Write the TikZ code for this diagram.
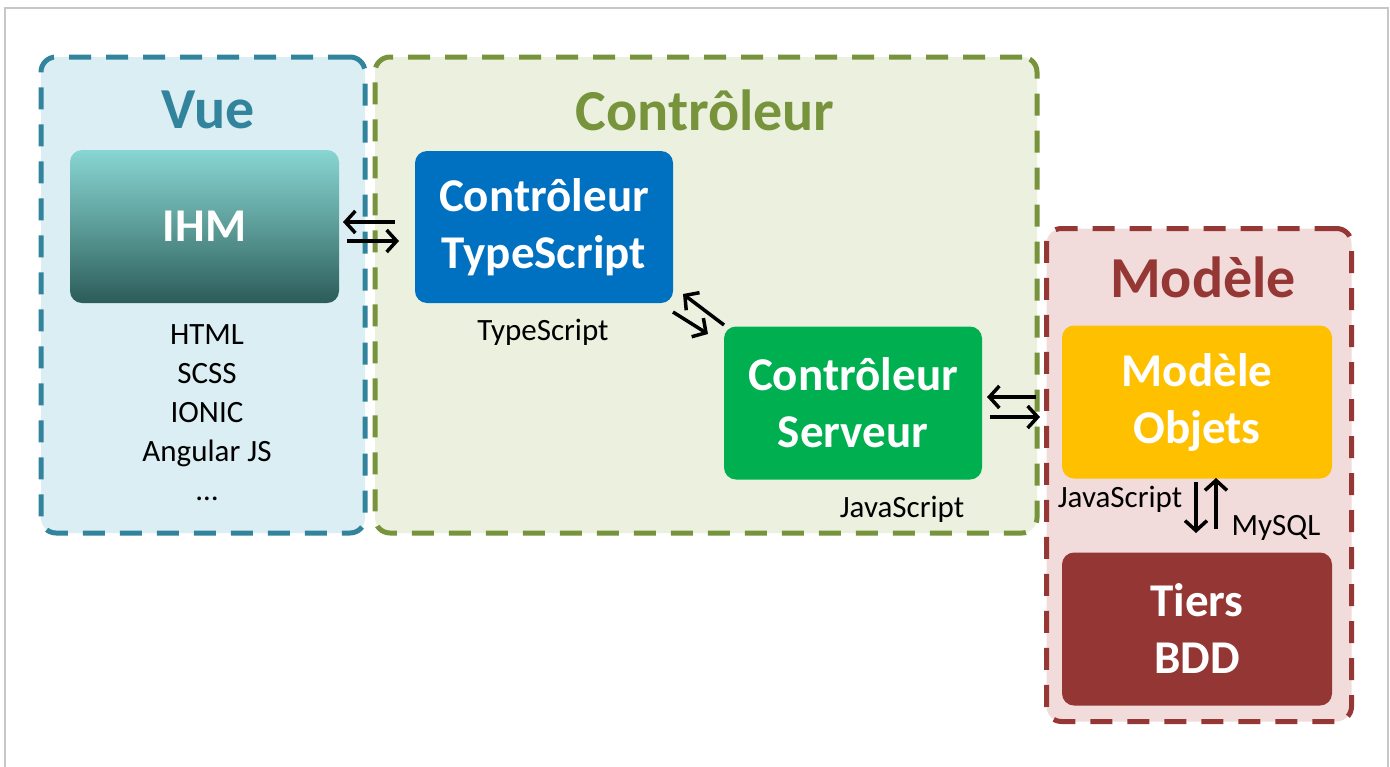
\documentclass[tikz,border=0pt]{standalone}
\usepackage{fontspec}
\setmainfont{Carlito}
\usetikzlibrary{arrows.meta}
\definecolor{vueFill}{HTML}{DBEEF4}
\definecolor{vueLine}{HTML}{31849B}
\definecolor{ctrlFill}{HTML}{EBF1DE}
\definecolor{ctrlLine}{HTML}{77933C}
\definecolor{modFill}{HTML}{F2DCDB}
\definecolor{modLine}{HTML}{953735}
\definecolor{tsBlue}{HTML}{0070C0}
\definecolor{srvGreen}{HTML}{00B050}
\definecolor{objYellow}{HTML}{FFC000}
\definecolor{bddRed}{HTML}{943634}
\definecolor{ihmTop}{HTML}{88D5D3}
\definecolor{ihmMid}{HTML}{5C9C98}
\definecolor{ihmBot}{HTML}{2B5C59}
\tikzset{
  layer/.style={draw, line width=5pt, dash pattern=on 22pt off 15pt, rounded corners=15pt, inner sep=0pt},
  inbox/.style={rounded corners=12pt, inner sep=0pt, text=white, align=center,
    font=\bfseries\fontsize{47}{57}\selectfont},
  title/.style={anchor=base, font=\bfseries\fontsize{58}{60}\selectfont},
  lbl/.style={anchor=base, font=\fontsize{31}{39}\selectfont, align=center, inner sep=0pt},
  arr/.style={line width=3.5pt, -{Straight Barb[length=10pt,width=22pt]}}
}
\begin{document}
\begin{tikzpicture}[x=1pt,y=-1pt]
\useasboundingbox (0,0) rectangle (1390,766);
\draw[black!22, line width=2pt] (5,770) -- (5,8) -- (1388,8) -- (1388,770);

% layers
\node[layer, draw=vueLine, fill=vueFill, minimum width=324pt, minimum height=476pt] (vue) at (203,295) {};
\node[layer, draw=ctrlLine, fill=ctrlFill, minimum width=662pt, minimum height=476pt] (ctrl) at (706,295) {};
\node[layer, draw=modLine, fill=modFill, minimum width=305pt, minimum height=493pt] (mod) at (1199,475) {};

\node[title, text=vueLine] (vuet) at (208,128) {Vue};
\node[title, text=ctrlLine] (ctrlt) at (705,130) {Contrôleur};
\node[title, text=modLine] (modt) at (1203,297) {Modèle};

% boxes
\node[inbox, top color=ihmTop, bottom color=ihmBot, middle color=ihmMid, minimum width=269pt, minimum height=153pt] (ihm) at (204.5,226.5) {IHM};
\node[inbox, fill=tsBlue, minimum width=258pt, minimum height=152pt] (ts) at (544,227) {Contrôleur\\TypeScript};
\node[inbox, fill=srvGreen, minimum width=258pt, minimum height=153pt] (srv) at (853,403) {Contrôleur\\Serveur};
\node[inbox, fill=objYellow, minimum width=270pt, minimum height=153pt] (obj) at (1197,402) {Modèle\\Objets};
\node[inbox, fill=bddRed, minimum width=270pt, minimum height=153pt] (bdd) at (1197,629) {Tiers\\BDD};

% labels
\node[lbl] (list) at (207,500) {HTML\\SCSS\\IONIC\\Angular JS\\\ldots};
\node[lbl] (tsl) at (543,340) {TypeScript};
\node[lbl] (jsl) at (902,517) {JavaScript};
\node[lbl] (jsm) at (1120,507) {JavaScript};
\node[lbl] (sql) at (1276,535) {MySQL};

% arrows
\coordinate (a1s) at (395,222); \coordinate (a1e) at (343,222);
\coordinate (a2s) at (347,241); \coordinate (a2e) at (399,241);
\draw[arr] (a1s) -- (a1e);
\draw[arr] (a2s) -- (a2e);

\coordinate (b1s) at (724,325); \coordinate (b1e) at (683,294);
\coordinate (b2s) at (673,312); \coordinate (b2e) at (708,334);
\draw[arr] (b1s) -- (b1e);
\draw[arr] (b2s) -- (b2e);

\coordinate (c1s) at (1036,397); \coordinate (c1e) at (987,397);
\coordinate (c2s) at (990,417); \coordinate (c2e) at (1040,417);
\draw[arr] (c1s) -- (c1e);
\draw[arr] (c2s) -- (c2e);

\coordinate (d1s) at (1196,482); \coordinate (d1e) at (1196,533);
\coordinate (d2s) at (1216,529); \coordinate (d2e) at (1216,478);
\draw[arr] (d1s) -- (d1e);
\draw[arr] (d2s) -- (d2e);
\end{tikzpicture}
\end{document}
